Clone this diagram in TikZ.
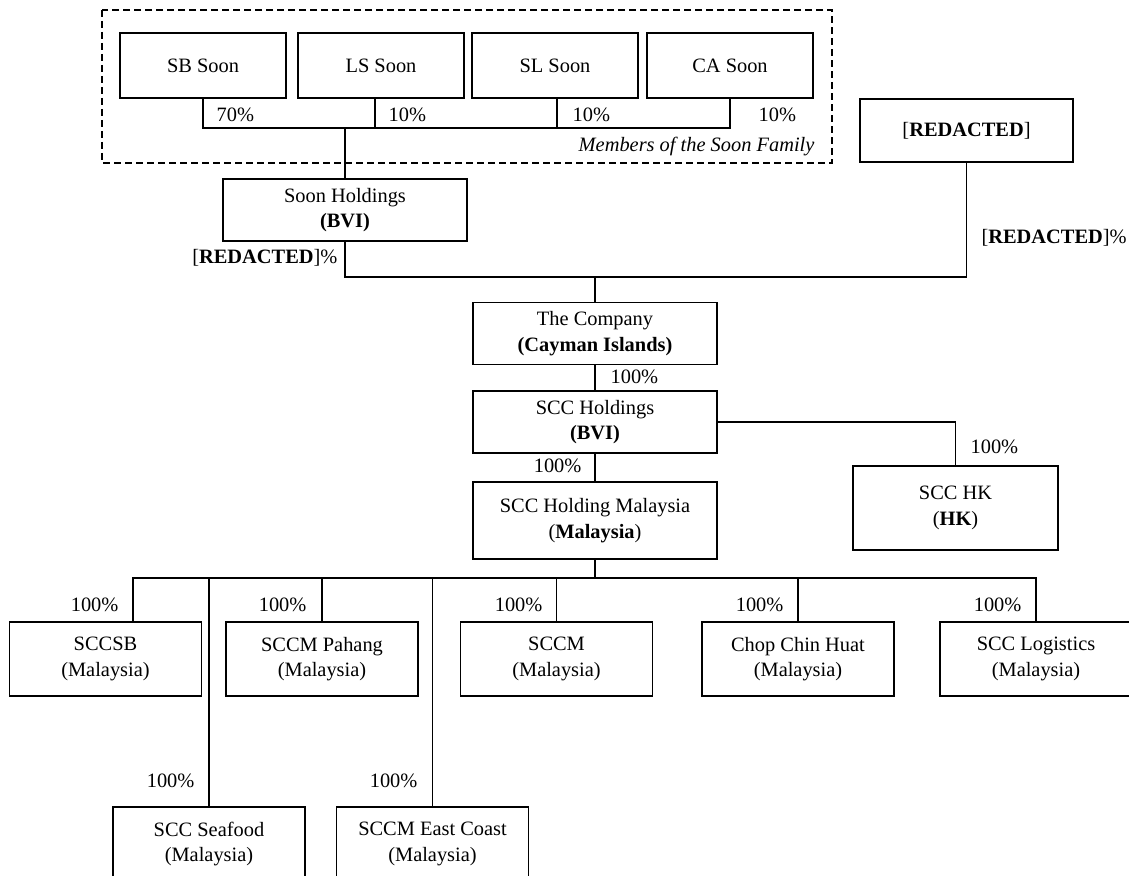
\documentclass[tikz,border=0pt]{standalone}
\usepackage{fontspec}
\setmainfont{Liberation Serif}
\usepackage{tikz}

\begin{document}
\begin{tikzpicture}[x=0.5pt, y=-0.5pt, line width=0.6pt,
  every node/.style={font=\fontsize{10.2}{12.75}\selectfont},
  box/.style={draw, align=center, inner sep=0pt},
  famb/.style={box, minimum width=83pt, minimum height=32.5pt},
  midb/.style={box, minimum width=122pt, minimum height=31pt},
  subb/.style={box, minimum width=96pt, minimum height=37pt},
  pct/.style={inner sep=0pt}]
\useasboundingbox (0,0) rectangle (1129,876);
\clip (0,0) rectangle (1129,876);
\draw[dash pattern=on 3.3pt off 2.2pt] (102,10) rectangle (832,163);
\node[famb] (sb) at (203,65.5) {SB Soon};
\node[famb] (ls) at (381,65.5) {LS Soon};
\node[famb] (sl) at (555,65.5) {SL Soon};
\node[famb] (ca) at (730,65.5) {CA Soon};
\node[pct, anchor=east, font=\fontsize{10.2}{12.75}\selectfont\itshape] (fam) at (815,147) {Members of the Soon Family};
\node[midb] (soonh) at (345,210) {Soon Holdings\\\textbf{(BVI)}};
\node[box, minimum width=106.5pt, minimum height=31.5pt] (redact) at (966.5,130.5) {[\textbf{REDACTED}]};
\node[midb] (company) at (595,333.5) {The Company\\\textbf{(Cayman Islands)}};
\node[midb] (sccbvi) at (595,422) {SCC Holdings\\\textbf{(BVI)}};
\node[midb, minimum height=38.5pt] (sccmy) at (595,520.5) {SCC Holding Malaysia\\(\textbf{Malaysia})};
\node[box, minimum width=102.5pt, minimum height=42pt] (scchk) at (955.5,508) {SCC HK\\(\textbf{HK})};
\node[subb] (sccsb) at (105.5,659) {SCCSB\\(Malaysia)};
\node[subb] (pahang) at (322,659) {SCCM Pahang\\(Malaysia)};
\node[subb] (sccm) at (556.5,659) {SCCM\\(Malaysia)};
\node[subb] (chop) at (798,659) {Chop Chin Huat\\(Malaysia)};
\node[subb] (logist) at (1036,659) {SCC Logistics\\(Malaysia)};
\node[subb] (seafood) at (209,844) {SCC Seafood\\(Malaysia)};
\node[subb] (eastc) at (432.5,844) {SCCM East Coast\\(Malaysia)};
\coordinate (fbar) at (0,128);
\coordinate (tbar) at (0,277);
\coordinate (sbar) at (0,578);
\draw (sb.south) -- (sb.south |- fbar) -- (ca.south |- fbar) -- (ca.south);
\draw ([xshift=-3pt]ls.south) -- ([xshift=-3pt]ls.south |- fbar);
\draw ([xshift=1pt]sl.south) -- ([xshift=1pt]sl.south |- fbar);
\draw (soonh.north) -- (soonh.north |- fbar);
\draw (soonh.south) -- (soonh.south |- tbar) -- (redact.south |- tbar) -- (redact.south);
\draw (company.north) -- (company.north |- tbar);
\draw (company.south) -- (sccbvi.north);
\draw (sccbvi.east) -- (scchk.north |- sccbvi.east) -- (scchk.north);
\draw (sccbvi.south) -- (sccmy.north);
\draw (sccmy.south) -- (sccmy.south |- sbar);
\draw ([xshift=13.75pt]sccsb.north) -- ([xshift=13.75pt]sccsb.north |- sbar) -- (logist.north |- sbar) -- (logist.north);
\foreach \n in {pahang,sccm,chop,seafood,eastc}
  \draw (\n.north) -- (\n.north |- sbar);
\node[pct, anchor=west] (psb) at (216,115) {70\%};
\node[pct, anchor=west] (pls) at (388,115) {10\%};
\node[pct, anchor=west] (psl) at (572,115) {10\%};
\node[pct, anchor=west] (pca) at (758,115) {10\%};
\node[pct, anchor=east] (psoonh) at (338,258) {[\textbf{REDACTED}]\%};
\node[pct, anchor=west] (predact) at (981,238) {[\textbf{REDACTED}]\%};
\node[pct, anchor=west] (pcomp) at (610,377) {100\%};
\node[pct, anchor=east] (pmy) at (582,466) {100\%};
\node[pct, anchor=west] (phk) at (970,447) {100\%};
\node[pct, anchor=east] (psccsb) at (119,605) {100\%};
\node[pct, anchor=east] (ppahang) at (307,605) {100\%};
\node[pct, anchor=east] (psccm) at (543,605) {100\%};
\node[pct, anchor=east] (pchop) at (784,605) {100\%};
\node[pct, anchor=east] (plogist) at (1022,605) {100\%};
\node[pct, anchor=east] (pseafood) at (195,781) {100\%};
\node[pct, anchor=east] (peastc) at (418,781) {100\%};
\end{tikzpicture}
\end{document}
